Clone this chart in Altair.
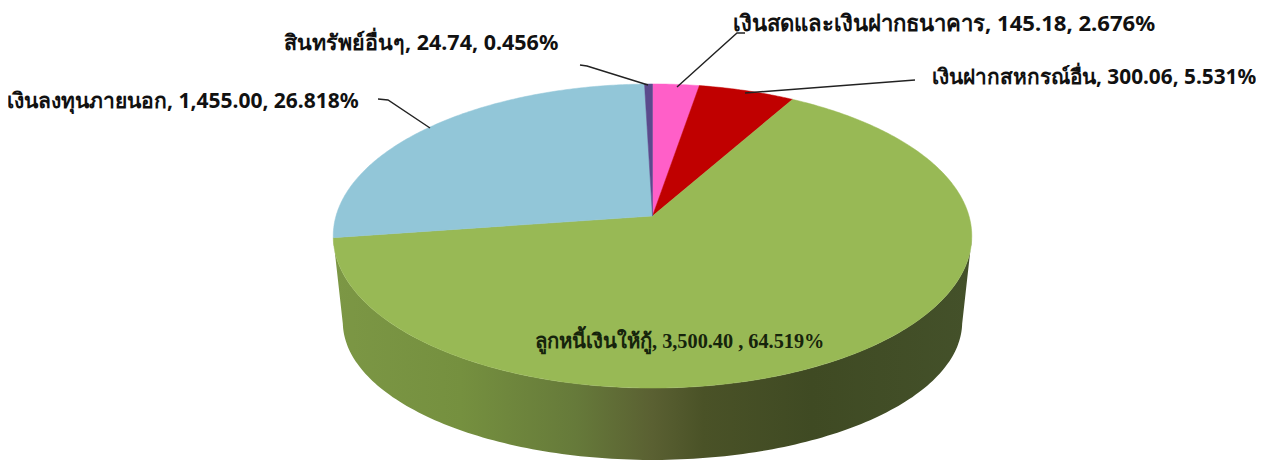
import numpy as np
import altair as alt

# --- data ---
names = ["เงินสดและเงินฝากธนาคาร", "เงินฝากสหกรณ์อื่น", "ลูกหนี้เงินให้กู้", "เงินลงทุนภายนอก", "สินทรัพย์อื่นๆ"]
values = [145.18, 300.06, 3500.40, 1455.00, 24.74]
labels = [
    "เงินสดและเงินฝากธนาคาร, 145.18, 2.676%",
    "เงินฝากสหกรณ์อื่น, 300.06, 5.531%",
    "ลูกหนี้เงินให้กู้, 3,500.40 , 64.519%",
    "เงินลงทุนภายนอก, 1,455.00, 26.818%",
    "สินทรัพย์อื่นๆ, 24.74, 0.456%",
]
colors = ["#ff5fc8", "#c00000", "#98b955", "#92c6d8", "#5b4a8c"]

# layout of the annotations (page pixels)
label_x = [733, 932, 535, 7, 284]
label_y = [24, 78, 342, 102, 44]
label_size = [22.1, 20.8, 20.3, 21, 21.5]
label_font = ["Noto Sans", "Noto Sans", "Liberation Serif", "Noto Sans", "Noto Sans"]
leader_paths = [
    [[745, 33], [737, 33], [677, 87]],
    [[915, 80], [745, 93]],
    None,
    [[378, 99], [388, 100], [430, 128]],
    [[580, 65], [587, 66], [648, 85]],
]

# perspective of the disc: page pixels of the top face and of the bottom rim
OFF = 8
TOP = dict(cx=652.5, cy=216, b=316.5, a=149.4, k=0.1316)
BOT = dict(cx=652.5, cy=303.8, b=307, a=135.6, k=0.1316)


def project(theta, p):
    u, v = np.sin(theta), -np.cos(theta)
    d = 1 - p["k"] * v
    return p["cx"] + p["b"] * u / d - OFF, p["cy"] + p["a"] * v / d - OFF


def ring(t, p):
    x, y = project(np.asarray(t), p)
    return [[float(a), float(b)] for a, b in zip(x, y)]


total = sum(values)
edges = np.concatenate([[0], np.cumsum(values)]) / total * 2 * np.pi

wedges = []
for i, n in enumerate(names):
    t = np.linspace(edges[i], edges[i + 1], max(3, int((edges[i + 1] - edges[i]) * 90)))
    apex = [TOP["cx"] - OFF, TOP["cy"] - OFF]
    pts = [apex] + ring(t, TOP) + [apex]
    wedges.append({"type": "Feature", "properties": {"name": n},
                   "geometry": {"type": "Polygon", "coordinates": [pts]}})

# wall: front half of the top face, then back along the bottom rim
side = np.deg2rad(98.3)
tf = np.linspace(side, 2 * np.pi - side, 160)
wall_pts = ring(tf, TOP) + ring(tf[::-1], BOT)
wall_pts.append(wall_pts[0])
wall = [{"type": "Feature", "properties": {"name": "wall"},
         "geometry": {"type": "Polygon", "coordinates": [wall_pts]}}]

leaders = [{"type": "Feature", "properties": {"name": n},
            "geometry": {"type": "LineString",
                         "coordinates": [[x - OFF, y - OFF] for x, y in path]}}
           for n, path in zip(names, leader_paths) if path]

text_rows = [{"label": l, "lon": x - OFF, "lat": y - OFF, "font": f, "size": s}
             for l, x, y, f, s in zip(labels, label_x, label_y, label_font, label_size)]

proj = dict(type="identity", scale=1, translate=[0, 0])

wall_layer = alt.Chart(alt.Data(values=wall)).mark_geoshape(
    fill=alt.Gradient(
        gradient="linear", x1=1, x2=0, y1=0.5, y2=0.5,
        stops=[
            alt.GradientStop(offset=0.0, color="#44512a"),
            alt.GradientStop(offset=0.25, color="#3f4a23"),
            alt.GradientStop(offset=0.42, color="#4a5227"),
            alt.GradientStop(offset=0.5, color="#5a6032"),
            alt.GradientStop(offset=0.62, color="#667a3a"),
            alt.GradientStop(offset=0.8, color="#75903f"),
            alt.GradientStop(offset=1.0, color="#7c9745"),
        ],
    ),
).project(**proj)

top_layer = alt.Chart(alt.Data(values=wedges)).mark_geoshape(strokeWidth=0.5).encode(
    color=alt.Color("properties.name:N", legend=None,
                    scale=alt.Scale(domain=names, range=colors)),
    stroke=alt.Stroke("properties.name:N", legend=None,
                      scale=alt.Scale(domain=names, range=colors)),
).project(**proj)

leader_layer = alt.Chart(alt.Data(values=leaders)).mark_geoshape(
    filled=False, stroke="#222222", strokeWidth=1.4
).project(**proj)

sans = [r for r in text_rows if r["font"] != "Liberation Serif"]
serif = [r for r in text_rows if r["font"] == "Liberation Serif"]

text_sans = alt.Chart(alt.Data(values=sans)).mark_text(
    align="left", baseline="middle", font="Noto Sans", fontWeight="bold", color="#111111"
).encode(longitude="lon:Q", latitude="lat:Q", text="label:N",
         size=alt.Size("size:Q", scale=None, legend=None)).project(**proj)

text_serif = alt.Chart(alt.Data(values=serif)).mark_text(
    align="left", baseline="middle", font="Liberation Serif", fontWeight="bold", color="#16240c"
).encode(longitude="lon:Q", latitude="lat:Q", text="label:N",
         size=alt.Size("size:Q", scale=None, legend=None)).project(**proj)

chart = alt.layer(wall_layer, top_layer, leader_layer, text_sans, text_serif).properties(
    width=1248, height=453, padding=0, autosize="none", background="#ffffff"
).configure_view(stroke=None)

chart.save("out.html", embed_options={"renderer": "svg", "actions": False})
